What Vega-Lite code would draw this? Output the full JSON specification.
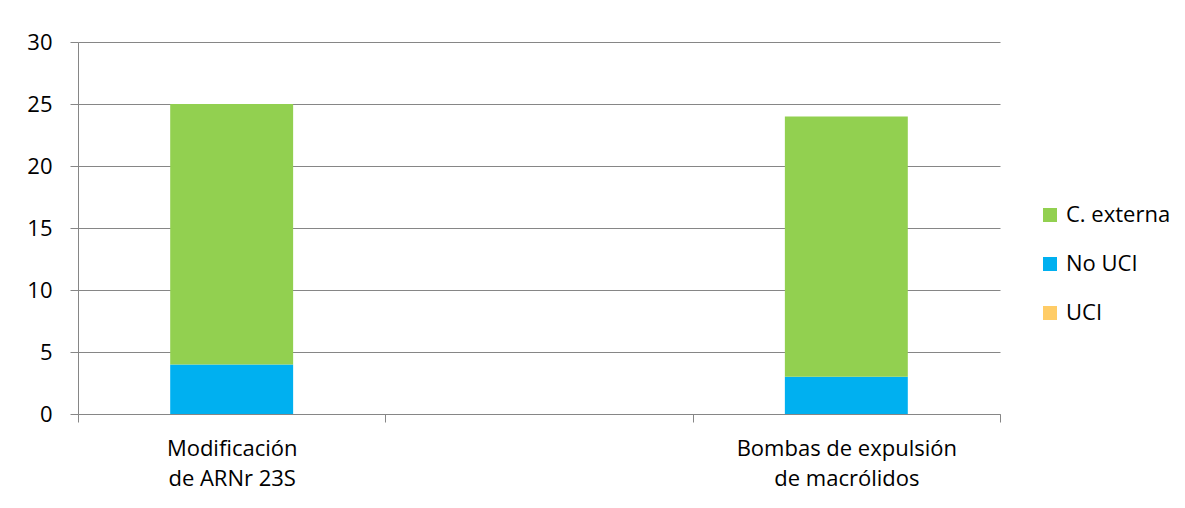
{
  "$schema": "https://vega.github.io/schema/vega-lite/v6.json",
  "autosize": "none",
  "width": 922,
  "height": 372,
  "padding": {"left": 78, "top": 42, "right": 185, "bottom": 94},
  "background": "white",
  "data": {
    "values": [
      {"categoria": "Modificación de ARNr 23S", "grupo": "UCI", "orden": 1, "valor": 0},
      {"categoria": "Modificación de ARNr 23S", "grupo": "No UCI", "orden": 2, "valor": 4},
      {"categoria": "Modificación de ARNr 23S", "grupo": "C. externa", "orden": 3, "valor": 21},
      {"categoria": "Bombas de expulsión de macrólidos", "grupo": "UCI", "orden": 1, "valor": 0},
      {"categoria": "Bombas de expulsión de macrólidos", "grupo": "No UCI", "orden": 2, "valor": 3},
      {"categoria": "Bombas de expulsión de macrólidos", "grupo": "C. externa", "orden": 3, "valor": 21}
    ]
  },
  "mark": {"type": "bar", "width": {"band": 0.4}},
  "encoding": {
    "x": {
      "field": "categoria",
      "type": "nominal",
      "sort": null,
      "scale": {"domain": ["Modificación de ARNr 23S", " ", "Bombas de expulsión de macrólidos"], "paddingInner": 0, "paddingOuter": 0},
      "axis": {
        "title": null,
        "labelAngle": 0,
        "tickBand": "extent",
        "tickSize": 8,
        "tickColor": "#868686",
        "domainColor": "#868686",
        "labelFont": "Open Sans",
        "labelFontSize": 22,
        "labelColor": "#000000",
        "labelPadding": 16,
        "labelLineHeight": 30,
        "labelLimit": 0,
        "labelExpr": "datum.label == 'Modificación de ARNr 23S' ? ['Modificación', 'de ARNr 23S'] : datum.label == 'Bombas de expulsión de macrólidos' ? ['Bombas de expulsión', 'de macrólidos'] : ''"
      }
    },
    "y": {
      "field": "valor",
      "type": "quantitative",
      "stack": "zero",
      "scale": {"domain": [0, 30], "nice": false},
      "axis": {
        "title": null,
        "values": [0, 5, 10, 15, 20, 25, 30],
        "grid": true,
        "gridColor": "#868686",
        "tickSize": 8,
        "tickColor": "#868686",
        "domainColor": "#868686",
        "labelFont": "Open Sans",
        "labelFontSize": 22,
        "labelColor": "#000000",
        "labelPadding": 18
      }
    },
    "color": {
      "field": "grupo",
      "type": "nominal",
      "scale": {"domain": ["C. externa", "No UCI", "UCI"], "range": ["#92D050", "#00B0F0", "#FFCC66"]},
      "legend": {
        "title": null,
        "orient": "none",
        "legendX": 961,
        "legendY": 162,
        "symbolType": "square",
        "symbolSize": 196,
        "symbolStrokeWidth": 0,
        "labelFont": "Open Sans",
        "labelFontSize": 22,
        "labelColor": "#000000",
        "labelOffset": 5,
        "rowPadding": 27
      }
    },
    "order": {"field": "orden", "type": "quantitative"}
  },
  "config": {
    "view": {"stroke": null},
    "axis": {"domainWidth": 1, "gridWidth": 1, "tickWidth": 1}
  }
}
